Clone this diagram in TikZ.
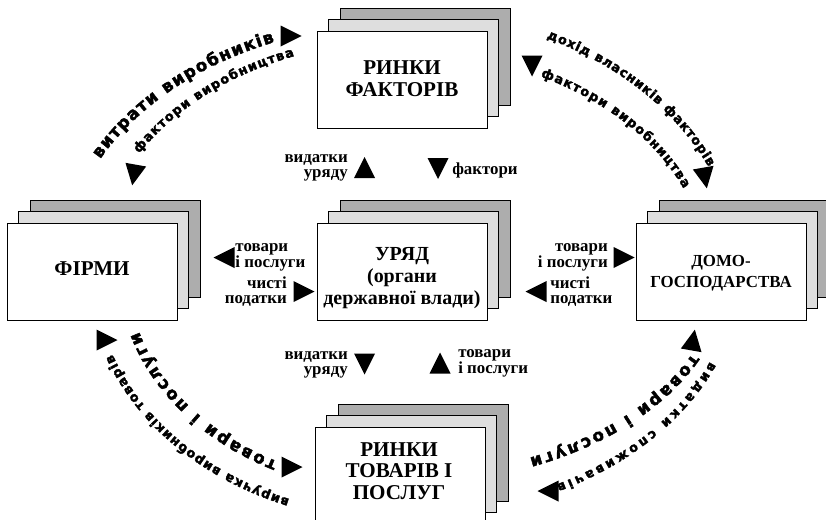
\documentclass[tikz,border=0pt]{standalone}
\usepackage{fontspec}
\setmainfont{Liberation Serif}
\newfontface\arcface{DejaVu Sans Bold}[FakeBold=2.5]
\usetikzlibrary{decorations.text}

\definecolor{sheetdark}{gray}{0.68}
\definecolor{sheetlight}{gray}{0.87}

\tikzset{
  sheetback/.style={fill=sheetdark, line width=0.6pt},
  sheetmid/.style={fill=sheetlight, line width=0.6pt},
  sheetfront/.style={fill=white, line width=0.6pt},
  boxtext/.style={font=\bfseries\fontsize{15}{15.4}\selectfont, align=center, inner sep=0pt},
  flowtext/.style={font=\bfseries\fontsize{12}{11}\selectfont, inner sep=0pt},
  pointer/.pic={\fill ( 0.2625, 0 ) -- ( -0.2625, 0.2625 ) -- ( -0.2625, -0.2625 ) -- cycle;}
}

\newcommand{\arcbig}{\arcface\fontsize{12}{14}\selectfont}
\newcommand{\arcsmall}{\arcface\fontsize{9.2}{10}\selectfont}

\begin{document}
\begin{tikzpicture}

\useasboundingbox ( 0, 0 ) rectangle ( 20.65, 12.975 );

% Factor markets
\filldraw [sheetback] ( 8.5, 10.35 ) rectangle ++( 4.25, 2.425 );
\filldraw [sheetmid] ( 8.2125, 10.0625 ) rectangle ++( 4.25, 2.425 );
\filldraw [sheetfront] ( 7.925, 9.775 ) rectangle ++( 4.25, 2.425 );

% Firms
\filldraw [sheetback] ( 0.75, 5.55 ) rectangle ++( 4.25, 2.425 );
\filldraw [sheetmid] ( 0.4625, 5.2625 ) rectangle ++( 4.25, 2.425 );
\filldraw [sheetfront] ( 0.175, 4.975 ) rectangle ++( 4.25, 2.425 );

% Government
\filldraw [sheetback] ( 8.5, 5.55 ) rectangle ++( 4.25, 2.425 );
\filldraw [sheetmid] ( 8.2125, 5.2625 ) rectangle ++( 4.25, 2.425 );
\filldraw [sheetfront] ( 7.925, 4.975 ) rectangle ++( 4.25, 2.425 );

% Households
\filldraw [sheetback] ( 16.475, 5.55 ) rectangle ++( 4.25, 2.425 );
\filldraw [sheetmid] ( 16.1875, 5.2625 ) rectangle ++( 4.25, 2.425 );
\filldraw [sheetfront] ( 15.9, 4.975 ) rectangle ++( 4.25, 2.425 );

% Goods markets
\filldraw [sheetback] ( 8.45, 0.45 ) rectangle ++( 4.25, 2.425 );
\filldraw [sheetmid] ( 8.1625, 0.1625 ) rectangle ++( 4.25, 2.425 );
\filldraw [sheetfront] ( 7.875, -0.125 ) rectangle ++( 4.25, 2.425 );

% Box labels
\node [boxtext] (factors) at ( 10.05, 11.0 ) {РИНКИ\\ФАКТОРІВ};
\node [boxtext] (firms) at ( 2.3, 6.25 ) {ФІРМИ};
\node [boxtext, font=\bfseries\fontsize{14.2}{15.4}\selectfont] (govt) at ( 10.05, 6.025 ) {УРЯД\\(органи\\державної влади)};
\node [boxtext, font=\bfseries\fontsize{12}{15}\selectfont] (homes) at ( 18.025, 6.15 ) {ДОМО-\\ГОСПОДАРСТВА};
\node [boxtext] (goods) at ( 9.975, 1.2 ) {РИНКИ\\ТОВАРІВ І\\ПОСЛУГ};

% Flows through the government
\node [flowtext, anchor=east, align=right] (spendtop) at ( 8.7, 8.775 ) {видатки\\уряду};
\pic [rotate=90] at ( 9.1125, 8.7875 ) {pointer};
\pic [rotate=-90] at ( 10.95, 8.7625 ) {pointer};
\node [flowtext, anchor=west] (factorsin) at ( 11.3, 8.725 ) {фактори};

\pic [rotate=180] at ( 5.6, 6.5375 ) {pointer};
\node [flowtext, anchor=west, align=left] (goodsleft) at ( 5.88, 6.5375 ) {товари\\і послуги};
\node [flowtext, anchor=east, align=right] (taxleft) at ( 7.175, 5.6875 ) {чисті\\податки};
\pic at ( 7.6, 5.6875 ) {pointer};

\node [flowtext, anchor=east, align=right] (goodsright) at ( 15.2, 6.5375 ) {товари\\і послуги};
\pic at ( 15.6, 6.5375 ) {pointer};
\pic [rotate=180] at ( 13.4, 5.6875 ) {pointer};
\node [flowtext, anchor=west, align=left] (taxright) at ( 13.75, 5.6875 ) {чисті\\податки};

\node [flowtext, anchor=east, align=right] (spendbottom) at ( 8.7, 3.85 ) {видатки\\уряду};
\pic [rotate=-90] at ( 9.1125, 3.875 ) {pointer};
\pic [rotate=90] at ( 11.0, 3.9 ) {pointer};
\node [flowtext, anchor=west, align=left] (goodsup) at ( 11.45, 3.8875 ) {товари\\і послуги};

% Outer circle, upper left
\path [decorate, decoration={text along path, text align=fit to path, raise=-3pt,
  text={|\arcbig|витрати виробників}}]
  ( 10.05, 6.175 ) ++( 152.8:8.58 and 6.31 ) arc ( 152.8:112:8.58 and 6.31 );
\path [decorate, decoration={text along path, text align=fit to path, raise=-2pt,
  text={|\arcsmall|фактори виробництва}}]
  ( 10.05, 6.175 ) ++( 149:7.73 and 5.835 ) arc ( 149:110.5:7.73 and 5.835 );
\pic at ( 7.275, 12.075 ) {pointer};
\pic [rotate=-100] at ( 3.35, 8.6 ) {pointer};

% Outer circle, upper right
\path [decorate, decoration={text along path, text align=fit to path, raise=-2pt,
  text={|\arcsmall|дохід власників факторів}}]
  ( 10.05, 6.175 ) ++( 64.5:8.45 and 6.55 ) arc ( 64.5:24:8.45 and 6.55 );
\path [decorate, decoration={text along path, text align=fit to path, raise=-2pt,
  text={|\arcsmall|фактори виробництва}}]
  ( 10.05, 6.175 ) ++( 63:7.68 and 5.56 ) arc ( 63:22.4:7.68 and 5.56 );
\pic [rotate=-90] at ( 13.3, 11.325 ) {pointer};
\pic [rotate=-80] at ( 17.625, 8.525 ) {pointer};

% Outer circle, lower left
\path [decorate, decoration={text along path, text align=fit to path, raise=-3pt,
  text={|\arcbig|товари і послуги}}]
  ( 10.05, 6.175 ) ++( -117:6.955 and 5.425 ) arc ( -117:-163.6:6.955 and 5.425 );
\path [decorate, decoration={text along path, text align=fit to path, raise=-2pt,
  text={|\arcsmall|виручка виробників товарів}}]
  ( 10.05, 6.175 ) ++( -111.4:7.76 and 6.17 ) arc ( -111.4:-160.2:7.76 and 6.17 );
\pic at ( 2.675, 4.475 ) {pointer};
\pic at ( 7.3, 1.3 ) {pointer};

% Outer circle, lower right
\path [decorate, decoration={text along path, text align=fit to path, raise=-3pt,
  text={|\arcbig|товари і послуги}}]
  ( 10.05, 6.175 ) ++( -24:8.035 and 5.18 ) arc ( -24:-66.4:8.035 and 5.18 );
\path [decorate, decoration={text along path, text align=fit to path, raise=-2pt,
  text={|\arcsmall|видатки споживачів}}]
  ( 10.05, 6.175 ) ++( -22:8.37 and 6.075 ) arc ( -22:-62.3:8.37 and 6.075 );
\pic [rotate=80] at ( 17.325, 4.475 ) {pointer};
\pic [rotate=180] at ( 13.7, 0.7 ) {pointer};

\end{tikzpicture}
\end{document}
